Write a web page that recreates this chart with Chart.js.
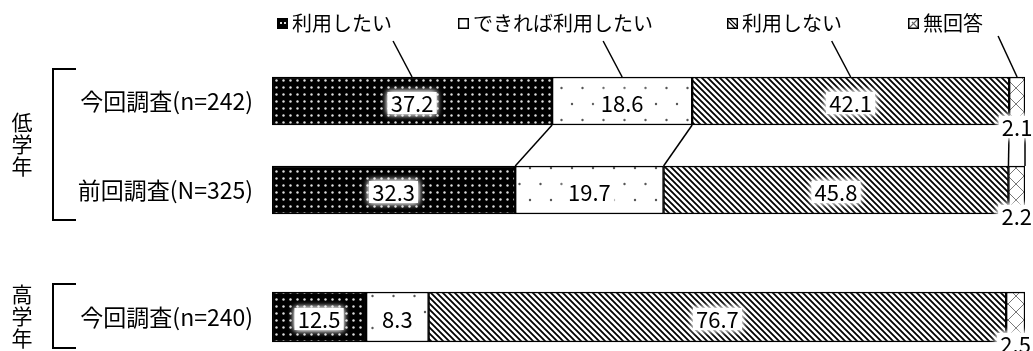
<!DOCTYPE html>
<html>
<head>
<meta charset="utf-8">
<script src="https://cdn.jsdelivr.net/npm/chart.js@4.4.0/dist/chart.umd.min.js"></script>
<style>
  html, body { margin: 0; padding: 0; background: #fff; }
  #wrap { position: relative; width: 1033px; height: 351px; overflow: hidden; }
  #lower { position: absolute; left: 0; top: 0; }
  #upper { position: absolute; left: 0; top: 240px; }
</style>
</head>
<body>
<div id="wrap">
  <canvas id="lower" width="1033" height="240"></canvas>
  <canvas id="upper" width="1033" height="111"></canvas>
</div>
<script>
/* ---------- data ---------- */
var categories = ['今回調査(n=242)', '前回調査(N=325)', '今回調査(n=240)'];
var groups = ['低学年', '高学年'];
var seriesNames = ['利用したい', 'できれば利用したい', '利用しない', '無回答'];
var wantUse   = [37.2, 32.3, 12.5];
var preferUse = [18.6, 19.7, 8.3];
var notUse    = [42.1, 45.8, 76.7];
var noAnswer  = [2.1, 2.2, 2.5];
var seriesValues = [wantUse, preferUse, notUse, noAnswer];

/* ---------- look ---------- */
var FONT = "'Noto Sans CJK JP', 'Noto Sans', sans-serif";
var LEGEND_X = [277, 458, 727, 908];
Chart.defaults.font.family = FONT;
Chart.defaults.color = '#000';

function makePattern(kind) {
  var c = document.createElement('canvas');
  var x = c.getContext('2d');
  if (kind === 0) {            // black with white dots
    c.width = 7; c.height = 7;
    x.fillStyle = '#000'; x.fillRect(0, 0, 7, 7);
    x.fillStyle = '#dedede';
    x.beginPath(); x.arc(3.5, 3.5, 1.2, 0, Math.PI * 2); x.fill();
  } else if (kind === 1) {     // white with sparse dots
    c.width = 21; c.height = 32;
    x.fillStyle = '#fff'; x.fillRect(0, 0, 21, 32);
    x.fillStyle = '#555';
    x.beginPath(); x.arc(5, 8, 1.2, 0, Math.PI * 2); x.fill();
    x.beginPath(); x.arc(15.5, 24, 1.2, 0, Math.PI * 2); x.fill();
  } else if (kind === 2) {     // diagonal hatch
    c.width = 6; c.height = 6;
    x.fillStyle = '#fff'; x.fillRect(0, 0, 6, 6);
    x.strokeStyle = '#000'; x.lineWidth = 1.8;
    x.beginPath();
    x.moveTo(-1, -1); x.lineTo(7, 7);
    x.moveTo(-1, 5); x.lineTo(1, 7);
    x.moveTo(5, -1); x.lineTo(7, 1);
    x.stroke();
  } else {                     // cross hatch
    c.width = 16; c.height = 16;
    x.fillStyle = '#fff'; x.fillRect(0, 0, 16, 16);
    x.strokeStyle = '#777'; x.lineWidth = 1;
    x.beginPath();
    x.moveTo(0, 0); x.lineTo(16, 16);
    x.moveTo(16, 0); x.lineTo(0, 16);
    x.stroke();
  }
  return x.createPattern(c, 'repeat');
}
var patterns = [0, 1, 2, 3].map(makePattern);

// small legend swatch
function drawSwatch(ctx, kind, lx, ly) {
  var s = 11;
  ctx.save();
  ctx.fillStyle = kind === 0 ? '#000' : '#fff';
  ctx.fillRect(lx, ly, s, s);
  ctx.beginPath(); ctx.rect(lx, ly, s, s); ctx.clip();
  if (kind === 0) {
    ctx.fillStyle = '#ddd';
    ctx.fillRect(lx + 3, ly + 4, 2, 2); ctx.fillRect(lx + 7, ly + 4, 2, 2);
  } else if (kind === 2) {
    ctx.strokeStyle = '#000'; ctx.lineWidth = 1.2;
    ctx.beginPath();
    ctx.moveTo(lx, ly + 2); ctx.lineTo(lx + 9, ly + 11);
    ctx.moveTo(lx + 2, ly); ctx.lineTo(lx + 11, ly + 9);
    ctx.stroke();
  } else if (kind === 3) {
    ctx.strokeStyle = '#666'; ctx.lineWidth = 1.2;
    ctx.beginPath();
    ctx.moveTo(lx, ly + s); ctx.lineTo(lx + s, ly);
    ctx.moveTo(lx + 4, ly + 4); ctx.lineTo(lx + s, ly + s);
    ctx.stroke();
  }
  ctx.restore();
  ctx.save();
  ctx.strokeStyle = '#000'; ctx.lineWidth = 1.5;
  ctx.strokeRect(lx + 0.75, ly + 0.75, s - 1.5, s - 1.5);
  ctx.restore();
}

function glowLabel(ctx, text, x, y) {
  ctx.save();
  ctx.font = '22px ' + FONT;
  var w = ctx.measureText(text).width;
  ctx.fillStyle = '#fff';
  ctx.shadowColor = '#fff';
  ctx.shadowBlur = 6;
  ctx.fillRect(x - w / 2 - 3, y - 11, w + 6, 22);
  ctx.fillRect(x - w / 2 - 3, y - 11, w + 6, 22);
  ctx.shadowBlur = 0;
  ctx.fillStyle = '#000';
  ctx.textAlign = 'center';
  ctx.textBaseline = 'middle';
  ctx.fillText(text, x, y + 1);
  ctx.restore();
}

/* ---------- decorations: legend, leader lines, connectors, labels, brackets ---------- */
var decor = {
  id: 'decor',
  afterDatasetsDraw: function (chart, args, o) {
    var ctx = chart.ctx;
    var xs = chart.scales.x;
    var nRows = chart.data.labels.length;
    function rect(di, r) {
      var p = chart.getDatasetMeta(di).data[r].getProps(['x', 'y', 'base', 'height'], true);
      return { left: Math.min(p.x, p.base), right: Math.max(p.x, p.base),
               top: p.y - p.height / 2, bottom: p.y + p.height / 2, cy: p.y };
    }
    ctx.save();
    ctx.strokeStyle = '#000';
    ctx.lineWidth = 1.5;

    // connectors between adjacent rows
    for (var r = 0; r < nRows - 1; r++) {
      var c0 = 0, c1 = 0;
      for (var k = 0; k < chart.data.datasets.length; k++) {
        c0 += chart.data.datasets[k].data[r];
        c1 += chart.data.datasets[k].data[r + 1];
        ctx.beginPath();
        ctx.moveTo(xs.getPixelForValue(c0), rect(0, r).bottom);
        ctx.lineTo(xs.getPixelForValue(c1), rect(0, r + 1).top);
        ctx.stroke();
      }
    }

    // legend + leader lines
    if (o.legend) {
      chart.data.datasets.forEach(function (ds, i) {
        var b = rect(i, 0);
        var cx = (b.left + b.right) / 2;
        ctx.beginPath();
        ctx.moveTo(cx - 19, i === 3 ? 36 : 41);
        ctx.lineTo(cx, b.top);
        ctx.stroke();
        var lx = LEGEND_X[i];
        drawSwatch(ctx, i, lx, 18);
        ctx.fillStyle = '#000';
        ctx.font = '20px ' + FONT;
        ctx.textAlign = 'left';
        ctx.textBaseline = 'middle';
        ctx.fillText(ds.label, lx + 15, 23);
      });
    }

    // value labels
    chart.data.datasets.forEach(function (ds, i) {
      ds.data.forEach(function (v, r) {
        var b = rect(i, r);
        var cx = (b.left + b.right) / 2;
        if (v < 5) glowLabel(ctx, v.toFixed(1), cx, b.bottom + 2);
        else glowLabel(ctx, v.toFixed(1), cx, b.cy + 2);
      });
    });

    // group bracket and vertical group name
    var top = rect(0, 0).top - 8;
    var bottom = rect(0, nRows - 1).bottom + 6;
    ctx.lineWidth = 2;
    ctx.beginPath();
    ctx.moveTo(76, top); ctx.lineTo(53, top);
    ctx.lineTo(53, bottom); ctx.lineTo(76, bottom);
    ctx.stroke();
    var chars = o.group.split('');
    var mid = (top + bottom) / 2;
    ctx.fillStyle = '#000';
    ctx.font = '21px ' + FONT;
    ctx.textAlign = 'center';
    ctx.textBaseline = 'middle';
    chars.forEach(function (ch, j) {
      ctx.fillText(ch, 22, mid + (j - (chars.length - 1) / 2) * 22);
    });
    ctx.restore();
  }
};

function buildChart(canvasId, rows, group, showLegend, thickness, padTop, padBottom) {
  var datasets = seriesNames.map(function (name, i) {
    return {
      label: name,
      data: rows.map(function (r) { return seriesValues[i][r]; }),
      backgroundColor: patterns[i],
      borderColor: '#000',
      borderWidth: 1.5,
      borderSkipped: false,
      barThickness: thickness
    };
  });
  return new Chart(document.getElementById(canvasId), {
    type: 'bar',
    data: { labels: rows.map(function (r) { return categories[r]; }), datasets: datasets },
    options: {
      indexAxis: 'y',
      responsive: false,
      animation: false,
      layout: { padding: { left: 0, right: 8, top: padTop, bottom: padBottom } },
      plugins: {
        legend: { display: false },
        tooltip: { enabled: false },
        decor: { legend: showLegend, group: group }
      },
      scales: {
        x: { stacked: true, min: 0, max: 100, display: false },
        y: {
          stacked: true,
          grid: { display: false, drawTicks: false },
          border: { display: false },
          ticks: { padding: 19, color: '#000', font: { size: 23 } },
          afterFit: function (s) {
            s.width = 272;
            s.paddingTop = 0;
            s.paddingBottom = 0;
          }
        }
      }
    },
    plugins: [decor]
  });
}

buildChart('lower', [0, 1], groups[0], true, 48, 56.5, 5.5);
buildChart('upper', [2], groups[1], false, 50, 50, 7);
</script>
</body>
</html>
